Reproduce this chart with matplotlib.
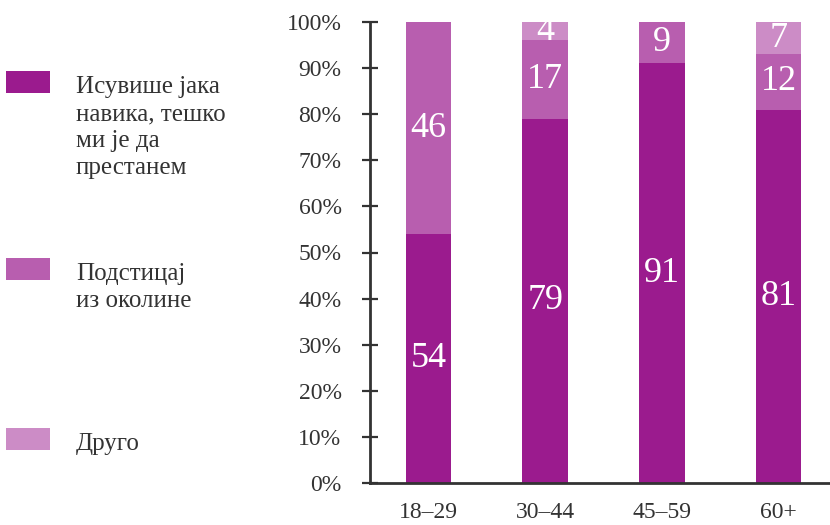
import matplotlib
matplotlib.use("Agg")
import matplotlib.pyplot as plt
from matplotlib.patches import Rectangle
import numpy as np

# data
groups = ["18–29", "30–44", "45–59", "60+"]
habit = [54, 79, 91, 81]
surround = [46, 17, 9, 12]
other = [0, 4, 0, 7]
series_names = ["Исувише јака\nнавика, тешко\nми је да\nпрестанем",
                "Подстицај\nиз околине",
                "Друго"]
colors = ["#9b1b8e", "#b85eaf", "#cc8cc6"]
yticks = [0, 10, 20, 30, 40, 50, 60, 70, 80, 90, 100]

plt.rcParams['font.family'] = ['Liberation Serif', 'DejaVu Serif']
txt = "#333333"

W, H = 830, 525
fig = plt.figure(figsize=(W / 100, H / 100), dpi=100)
ax = fig.add_axes([370 / W, 42 / H, 1 - 370 / W, 461 / H])

x = np.arange(len(groups))
bottom = np.zeros(len(groups))
for vals, col in zip([habit, surround, other], colors):
    vals = np.array(vals, dtype=float)
    ax.bar(x, vals, bottom=bottom, width=0.39, color=col, linewidth=0)
    for xi, b, v in zip(x, bottom, vals):
        if v > 0:
            ax.text(xi, b + v / 2, str(int(v)), ha="center", va="center",
                    color="white", fontsize=26)
    bottom += vals

ax.set_xlim(-0.5, 3.44)
ax.set_ylim(0, 100)
ax.set_yticks(yticks)
ax.set_yticklabels([f"{t}%" for t in yticks])
ax.set_xticks(x)
ax.set_xticklabels(groups)

for s in ["top", "right"]:
    ax.spines[s].set_visible(False)
for s in ["left", "bottom"]:
    ax.spines[s].set_linewidth(2)
    ax.spines[s].set_color(txt)
ax.tick_params(axis="y", direction="inout", length=11, width=1.6, color=txt,
               labelcolor=txt, labelsize=17, pad=15)
ax.tick_params(axis="x", length=0, labelcolor=txt, labelsize=17, pad=14)

# legend on the left
leg_y = [82, 269, 439]
for name, col, yc in zip(series_names, colors, leg_y):
    fig.add_artist(Rectangle((6 / W, 1 - (yc + 11) / H), 44 / W, 22 / H,
                             transform=fig.transFigure, color=col, lw=0))
    fig.text(76 / W, 1 - (yc - 6) / H, name, ha="left", va="top",
             fontsize=18, color=txt, linespacing=1.3)

fig.savefig("out.png", dpi=100)
